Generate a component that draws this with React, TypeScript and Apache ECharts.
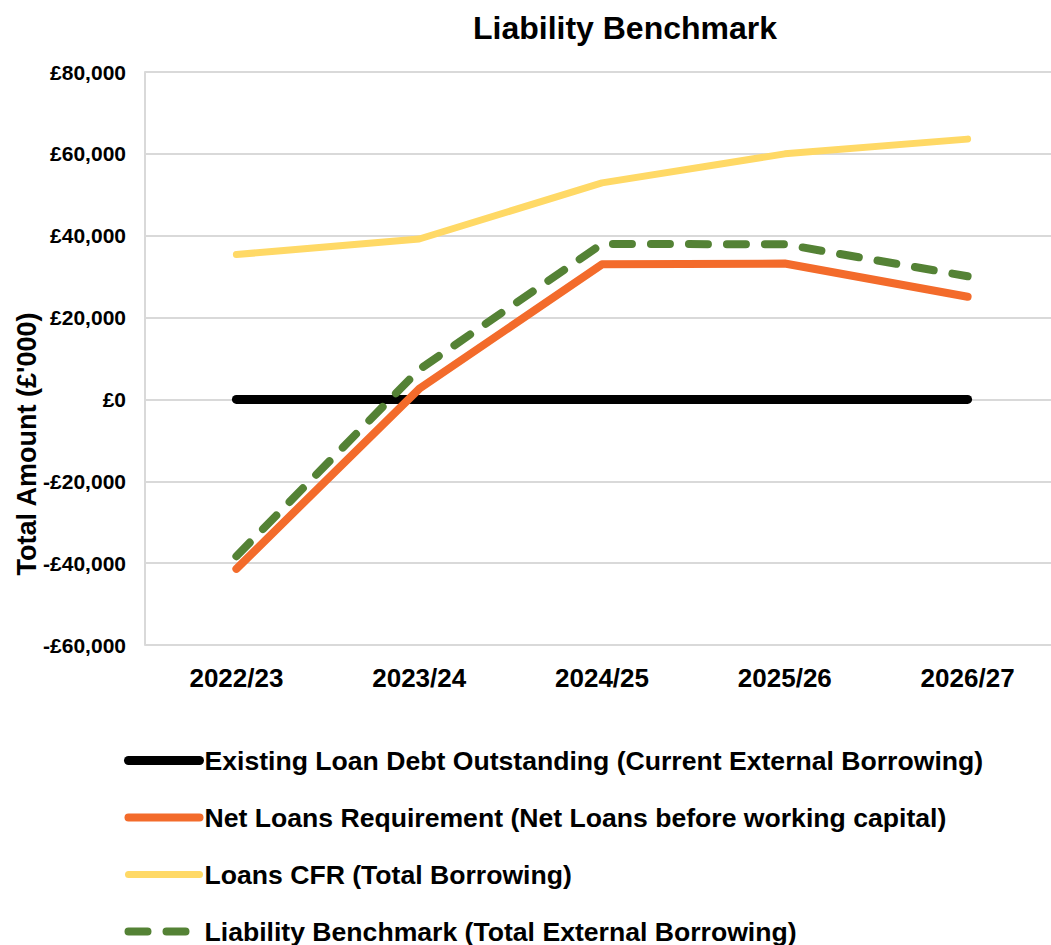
import React, { useEffect, useRef } from "react";
import * as echarts from "echarts";

const categories = ["2022/23", "2023/24", "2024/25", "2025/26", "2026/27"];
const existingDebt = [0, 0, 0, 0, 0];
const netLoans = [-41400, 2600, 33000, 33200, 25100];
const loansCFR = [35400, 39200, 52900, 60000, 63600];
const liabilityBenchmark = [-38300, 7300, 38000, 37900, 30100];

const seriesNames = [
  "Existing Loan Debt Outstanding (Current External Borrowing)",
  "Net Loans Requirement (Net Loans before working capital)",
  "Loans CFR (Total Borrowing)",
  "Liability Benchmark (Total External Borrowing)",
];

const FONT = "Arial, 'Liberation Sans', sans-serif";

function fmt(v: number): string {
  const abs = Math.abs(v).toLocaleString("en-GB");
  return (v < 0 ? "-£" : "£") + abs;
}

export default function App() {
  const ref = useRef<HTMLDivElement>(null);
  useEffect(() => {
    if (!ref.current) return;
    const chart = echarts.init(ref.current, undefined, { renderer: "svg" });
    chart.setOption({
      animation: false,
      backgroundColor: "#ffffff",
      textStyle: { fontFamily: FONT },
      graphic: [
        {
          type: "text",
          x: 625,
          y: 28,
          style: {
            text: "Liability Benchmark",
            font: `bold 32px ${FONT}`,
            fill: "#000",
            textAlign: "center",
            textVerticalAlign: "middle",
          },
        },
        {
          type: "text",
          x: 27,
          y: 444,
          rotation: Math.PI / 2,
          style: {
            text: "Total Amount (£'000)",
            font: `bold 27px ${FONT}`,
            fill: "#000",
            textAlign: "center",
            textVerticalAlign: "middle",
          },
        },
      ],
      grid: { left: 145, top: 72, width: 914, height: 573, containLabel: false },
      legend: {
        orient: "vertical",
        left: 124,
        top: 747,
        height: 300,
        width: 920,
        padding: 0,
        itemWidth: 71,
        itemHeight: 14,
        itemGap: 30,
        itemTextGap: 2,
        data: seriesNames,
        textStyle: { fontSize: 26.6, fontWeight: "bold", color: "#000", fontFamily: FONT },
        itemStyle: { opacity: 0 },
        lineStyle: { width: "inherit" },
      },
      xAxis: {
        type: "category",
        data: categories,
        boundaryGap: true,
        axisLine: { show: false },
        axisTick: { show: false },
        axisLabel: {
          margin: 20,
          fontSize: 26,
          fontWeight: "bold",
          color: "#000",
          fontFamily: FONT,
        },
      },
      yAxis: {
        type: "value",
        min: -60000,
        max: 80000,
        interval: 20000,
        axisLine: { show: true, lineStyle: { color: "#d9d9d9", width: 2 } },
        axisTick: { show: false },
        splitLine: { show: true, lineStyle: { color: "#d9d9d9", width: 2 } },
        axisLabel: {
          margin: 19,
          fontSize: 21,
          fontWeight: "bold",
          color: "#000",
          fontFamily: FONT,
          formatter: (v: number) => fmt(v),
        },
      },
      series: [
        {
          name: seriesNames[0],
          type: "line",
          data: existingDebt,
          symbol: "none",
          lineStyle: { color: "#000000", width: 9, cap: "round", join: "round" },
          itemStyle: { color: "#000000" },
        },
        {
          name: seriesNames[1],
          type: "line",
          data: netLoans,
          symbol: "none",
          lineStyle: { color: "#F36B2B", width: 8, cap: "round", join: "round" },
          itemStyle: { color: "#F36B2B" },
        },
        {
          name: seriesNames[2],
          type: "line",
          data: loansCFR,
          symbol: "none",
          lineStyle: { color: "#FFD966", width: 7, cap: "round", join: "round" },
          itemStyle: { color: "#FFD966" },
        },
        {
          name: seriesNames[3],
          type: "line",
          data: liabilityBenchmark,
          symbol: "none",
          lineStyle: { color: "#548235", width: 8, type: [19, 19], cap: "round", join: "round" },
          itemStyle: { color: "#548235" },
        },
      ],
    });
    return () => chart.dispose();
  }, []);
  return (
    <div style={{ position: "fixed", left: 0, top: 0, width: 1051, height: 945, overflow: "hidden", background: "#fff" }}>
      <div ref={ref} style={{ width: 1060, height: 945 }} />
    </div>
  );
}
